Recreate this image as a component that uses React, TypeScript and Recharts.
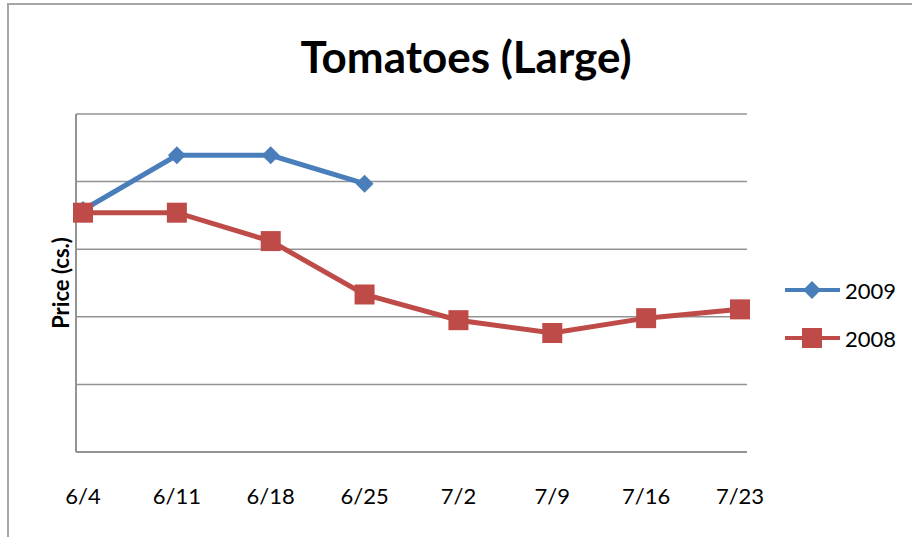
import { CartesianGrid, Line, LineChart, XAxis, YAxis } from "recharts";

const dates = ["6/4", "6/11", "6/18", "6/25", "7/2", "7/9", "7/16", "7/23"];
const price2009 = [3.58, 4.39, 4.39, 3.97, null, null, null, null];
const price2008 = [3.54, 3.54, 3.12, 2.33, 1.95, 1.76, 1.98, 2.11];
const yTicks = [0, 1, 2, 3, 4, 5];

const BLUE = "#4a7ebb";
const RED = "#be4b48";
const GRID = "#939393";
const FONT = "Lato, 'Noto Sans', sans-serif";

const data = dates.map((date, i) => ({ date, y2009: price2009[i], y2008: price2008[i] }));

function Diamond({ cx, cy, color }: { cx?: number; cy?: number; color: string }) {
  if (cx == null || cy == null) return null;
  const r = 9;
  return <polygon points={`${cx},${cy - r} ${cx + r},${cy} ${cx},${cy + r} ${cx - r},${cy}`} fill={color} />;
}

function Square({ cx, cy, color }: { cx?: number; cy?: number; color: string }) {
  if (cx == null || cy == null) return null;
  const s = 20;
  return <rect x={cx - s / 2} y={cy - s / 2} width={s} height={s} fill={color} />;
}

function LegendItem({ label, color, square }: { label: string; color: string; square?: boolean }) {
  return (
    <div style={{ display: "flex", alignItems: "center", height: 48 }}>
      <svg width={56} height={24}>
        <line x1={0} y1={12} x2={55} y2={12} stroke={color} strokeWidth={4} />
        {square ? <Square cx={27} cy={12} color={color} /> : <Diamond cx={27} cy={12} color={color} />}
      </svg>
      <span style={{ marginLeft: 4, fontSize: 22, color: "#000" }}>{label}</span>
    </div>
  );
}

export default function App() {
  return (
    <div
      style={{
        position: "absolute",
        left: 0,
        top: 0,
        width: 912,
        height: 537,
        background: "#fff",
        fontFamily: FONT,
        overflow: "hidden",
      }}
    >
      {/* chart frame, only top and left edges are in view */}
      <div
        style={{
          position: "absolute",
          left: 7,
          top: 3,
          width: 920,
          height: 560,
          borderTop: "2px solid #a6a6a6",
          borderLeft: "2px solid #a6a6a6",
        }}
      />

      <div
        style={{
          position: "absolute",
          left: 0,
          width: 932,
          top: 30,
          textAlign: "center",
          fontSize: 44,
          fontWeight: 700,
          color: "#000",
          lineHeight: "52px",
        }}
      >
        Tomatoes (Large)
      </div>

      <div style={{ position: "absolute", left: 0, top: 0 }}>
        <LineChart width={912} height={537} data={data} margin={{ top: 114, left: 75, right: 165, bottom: 84 }}>
          <CartesianGrid vertical={false} stroke={GRID} strokeWidth={1.5} />
          <XAxis
            dataKey="date"
            height={1}
            padding={{ left: 7, right: 7 }}
            tickLine={false}
            tickSize={0}
            tickMargin={36}
            axisLine={{ stroke: GRID, strokeWidth: 2 }}
            tick={{ fill: "#000", fontSize: 22, fontFamily: FONT }}
            interval={0}
          />
          <YAxis
            width={1}
            domain={[0, 5]}
            ticks={yTicks}
            tick={() => <g />}
            tickLine={false}
            axisLine={{ stroke: GRID, strokeWidth: 2 }}
            label={{
              value: "Price (cs.)",
              angle: -90,
              position: "insideLeft",
              offset: 0,
              dx: -14,
              style: { fontSize: 22, fontWeight: 700, fill: "#000", fontFamily: FONT, textAnchor: "middle" },
            }}
          />
          <Line
            dataKey="y2009"
            name="2009"
            stroke={BLUE}
            strokeWidth={5}
            isAnimationActive={false}
            dot={(p: any) => <Diamond key={`d${p.index}`} cx={p.cx} cy={p.cy} color={BLUE} />}
            activeDot={false}
          />
          <Line
            dataKey="y2008"
            name="2008"
            stroke={RED}
            strokeWidth={5}
            isAnimationActive={false}
            dot={(p: any) => <Square key={`s${p.index}`} cx={p.cx} cy={p.cy} color={RED} />}
            activeDot={false}
          />
        </LineChart>
      </div>

      <div style={{ position: "absolute", left: 785, top: 266 }}>
        <LegendItem label="2009" color={BLUE} />
        <LegendItem label="2008" color={RED} square />
      </div>
    </div>
  );
}
